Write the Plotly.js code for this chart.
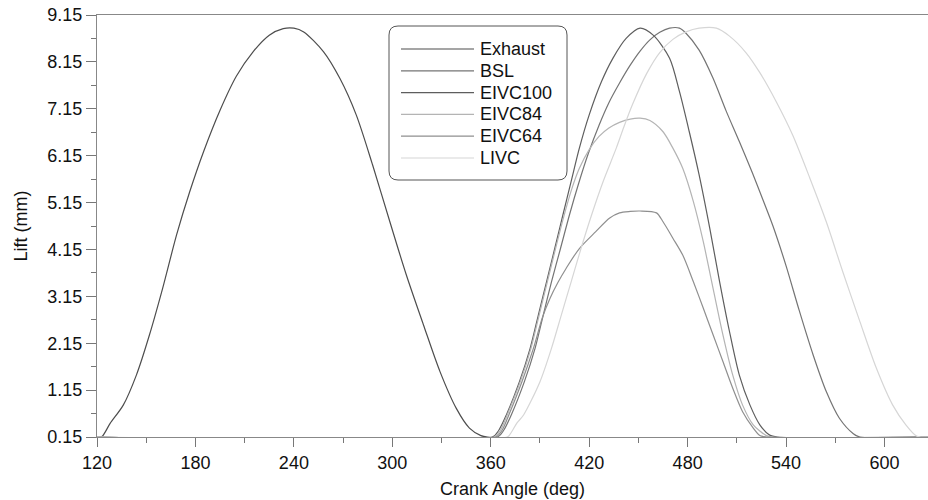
<!DOCTYPE html>
<html>
<head>
<meta charset="utf-8">
<script src="https://cdn.plot.ly/plotly-3.0.1.min.js"></script>
<style>html,body{margin:0;padding:0;background:#fff;}#chart{width:928px;height:500px;}</style>
</head>
<body>
<div id="chart"></div>
<script>
// Crank angle (deg) and lift (mm)
const exhaustX = [120, 123, 128, 136, 144, 152, 160, 168.5, 176.5, 185, 195, 205, 215, 225, 233.5, 240, 246, 258, 268, 278, 288, 298.5, 308.5, 319, 329, 339, 347, 354, 358, 627];
const exhaustY = [0.15, 0.16, 0.44, 0.83, 1.47, 2.33, 3.32, 4.46, 5.38, 6.24, 7.12, 7.85, 8.36, 8.72, 8.86, 8.87, 8.79, 8.37, 7.80, 7.02, 5.95, 4.74, 3.61, 2.54, 1.55, 0.76, 0.34, 0.18, 0.15, 0.15];

const bslX = [120, 364, 368, 372.5, 380.5, 387, 392, 397, 402.5, 408, 413.5, 419.5, 426, 432, 438.5, 445, 451, 457, 463, 469, 475, 479, 487, 495.5, 503.5, 511.5, 519.5, 526, 532, 540, 548, 556.5, 564.5, 572.5, 581, 585, 627];
const bslY = [0.15, 0.15, 0.30, 0.62, 1.33, 2.04, 2.75, 3.46, 4.17, 4.89, 5.55, 6.20, 6.80, 7.28, 7.70, 8.08, 8.38, 8.62, 8.78, 8.87, 8.87, 8.76, 8.40, 7.80, 7.10, 6.45, 5.78, 5.20, 4.65, 3.80, 2.85, 1.90, 1.12, 0.55, 0.22, 0.15, 0.15];

const eivc100X = [120, 361, 365, 369.5, 377.5, 384, 389, 394, 399, 404, 409, 414, 420, 427.5, 434.5, 442.5, 451, 459, 469, 475, 481, 487, 493.5, 499.5, 505.5, 511.5, 518, 524, 530, 535, 627];
const eivc100Y = [0.15, 0.15, 0.30, 0.62, 1.33, 2.04, 2.75, 3.46, 4.17, 4.89, 5.60, 6.31, 7.02, 7.73, 8.23, 8.65, 8.87, 8.72, 8.23, 7.52, 6.66, 5.74, 4.60, 3.46, 2.40, 1.47, 0.83, 0.41, 0.19, 0.15, 0.15];

const eivc84X = [120, 362, 366, 370, 378, 384.5, 389.5, 394.5, 399.5, 404.5, 409, 414, 420, 426, 432, 438.5, 445, 451, 457, 465, 471, 477, 483.5, 489.5, 495.5, 501.5, 507.5, 513.5, 520, 528, 532, 627];
const eivc84Y = [0.15, 0.15, 0.30, 0.62, 1.33, 2.04, 2.75, 3.46, 4.17, 4.85, 5.40, 5.88, 6.28, 6.56, 6.74, 6.86, 6.93, 6.95, 6.90, 6.66, 6.31, 5.88, 5.17, 4.32, 3.32, 2.33, 1.47, 0.83, 0.41, 0.18, 0.15, 0.15];

const eivc64X = [120, 363, 367, 371, 379, 386, 391.5, 396, 401, 406, 414, 424, 432.5, 438.5, 445, 451, 461, 465, 471, 477, 483.5, 489.5, 495.5, 501.5, 507.5, 513.5, 520, 524, 528, 627];
const eivc64Y = [0.15, 0.15, 0.30, 0.62, 1.33, 2.04, 2.70, 3.10, 3.45, 3.75, 4.17, 4.53, 4.82, 4.93, 4.96, 4.97, 4.93, 4.74, 4.39, 4.03, 3.46, 2.90, 2.33, 1.76, 1.19, 0.69, 0.34, 0.18, 0.15, 0.15];

const livcX = [120, 370, 372, 376, 380, 390, 397, 403, 409, 415, 421.5, 428.5, 436.5, 441, 446.5, 455, 463, 471, 479, 487, 497.5, 505.5, 515.5, 524, 534, 544, 554.5, 564.5, 574.5, 585, 595, 605, 613, 619.5, 622, 627];
const livcY = [0.15, 0.15, 0.22, 0.45, 0.62, 1.33, 2.04, 2.75, 3.46, 4.17, 4.89, 5.60, 6.31, 6.75, 7.25, 7.90, 8.35, 8.63, 8.79, 8.87, 8.87, 8.70, 8.35, 7.92, 7.30, 6.59, 5.67, 4.74, 3.68, 2.61, 1.62, 0.83, 0.41, 0.17, 0.15, 0.15];

const seriesNames = ["Exhaust", "BSL", "EIVC100", "EIVC84", "EIVC64", "LIVC"];
const xTickVals = [120, 180, 240, 300, 360, 420, 480, 540, 600];
const yTickVals = [0.15, 1.15, 2.15, 3.15, 4.15, 5.15, 6.15, 7.15, 8.15, 9.15];

const colors = ["#4d4d4d", "#747474", "#5e5e5e", "#b4b4b4", "#8f8f8f", "#d6d6d6"];
const xs = [exhaustX, bslX, eivc100X, eivc84X, eivc64X, livcX];
const ys = [exhaustY, bslY, eivc100Y, eivc84Y, eivc64Y, livcY];

const traces = seriesNames.map((n, i) => ({
  type: "scatter", mode: "lines", name: n,
  x: xs[i], y: ys[i],
  line: {color: colors[i], width: 1.2, shape: "spline", smoothing: 0.8},
  showlegend: false
}));

const font = "Liberation Sans, Arial, sans-serif";

// plot box in pixels -> paper coordinates helpers
const L = 97, R = 928, T = 15, B = 437;
const px = v => (v - L) / (R - L);
const py = v => (B - v) / (B - T);

// Rounded legend frame
const bx0 = 389, bx1 = 567, by0 = 26, by1 = 180, rr = 9;
const framePath = [
  `M${px(bx0 + rr)},${py(by0)}`,
  `L${px(bx1 - rr)},${py(by0)}`,
  `Q${px(bx1)},${py(by0)} ${px(bx1)},${py(by0 + rr)}`,
  `L${px(bx1)},${py(by1 - rr)}`,
  `Q${px(bx1)},${py(by1)} ${px(bx1 - rr)},${py(by1)}`,
  `L${px(bx0 + rr)},${py(by1)}`,
  `Q${px(bx0)},${py(by1)} ${px(bx0)},${py(by1 - rr)}`,
  `L${px(bx0)},${py(by0 + rr)}`,
  `Q${px(bx0)},${py(by0)} ${px(bx0 + rr)},${py(by0)}`,
  "Z"
].join(" ");

const rowY0 = 49, rowStep = 21.8;
const shapes = [{
  type: "path", xref: "paper", yref: "paper", path: framePath,
  line: {color: "#555", width: 1}, fillcolor: "rgba(0,0,0,0)", layer: "above"
}];
const annotations = [];
seriesNames.forEach((n, i) => {
  const yy = py(rowY0 + i * rowStep);
  shapes.push({type: "line", xref: "paper", yref: "paper",
    x0: px(401), x1: px(474), y0: yy, y1: yy,
    line: {color: colors[i], width: 1.2}, layer: "above"});
  annotations.push({xref: "paper", yref: "paper", x: px(478), y: yy,
    xanchor: "left", yanchor: "middle", showarrow: false, text: n,
    font: {family: font, size: 18, color: "#111"}});
});

const layout = {
  width: 928, height: 500,
  margin: {l: L, r: 928 - R, t: T, b: 500 - B},
  paper_bgcolor: "#fff", plot_bgcolor: "#fff",
  font: {family: font, size: 18, color: "#111"},
  showlegend: false,
  xaxis: {
    range: [120, 626.5], autorange: false,
    tickmode: "array", tickvals: xTickVals,
    ticks: "outside", ticklen: 9, tickwidth: 1, tickcolor: "#777",
    minor: {dtick: 30, tick0: 120, ticks: "outside", ticklen: 5, tickcolor: "#777", showgrid: false},
    showline: true, linecolor: "#888", linewidth: 1, mirror: true,
    showgrid: false, zeroline: false,
    tickfont: {family: font, size: 18, color: "#111"},
    title: {text: "Crank Angle (deg)", font: {family: font, size: 18, color: "#111"}, standoff: 10}
  },
  yaxis: {
    range: [0.15, 9.15], autorange: false,
    tickmode: "array", tickvals: yTickVals, ticktext: yTickVals.map(v => v.toFixed(2)),
    ticks: "outside", ticklen: 10, tickwidth: 1, tickcolor: "#777",
    minor: {dtick: 0.5, tick0: 0.15, ticks: "outside", ticklen: 5, tickcolor: "#777", showgrid: false},
    showline: true, linecolor: "#888", linewidth: 1,
    showgrid: false, zeroline: false,
    tickfont: {family: font, size: 18, color: "#111"},
    title: {text: "Lift (mm)", font: {family: font, size: 18, color: "#111"}, standoff: 15}
  },
  shapes: shapes,
  annotations: annotations
};

Plotly.newPlot("chart", traces, layout, {displayModeBar: false, staticPlot: true});
</script>
</body>
</html>
